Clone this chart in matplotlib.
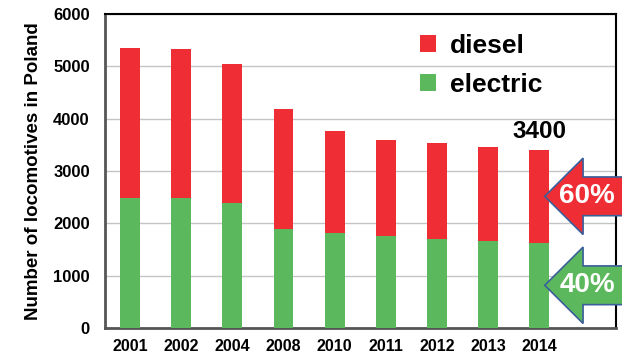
import matplotlib.pyplot as plt
from matplotlib.patches import Polygon, Rectangle
import numpy as np

years = ['2001', '2002', '2004', '2008', '2010', '2011', '2012', '2013', '2014']
total = [5350, 5330, 5040, 4180, 3770, 3600, 3530, 3465, 3400]
electric = [2480, 2480, 2390, 1890, 1815, 1750, 1705, 1660, 1630]
diesel = [t - e for t, e in zip(total, electric)]
shares = ['60%', '40%']

red = '#ee2e34'
green = '#5cb85c'

plt.rcParams['font.family'] = 'Liberation Sans'

fig = plt.figure(figsize=(6.22, 3.58), dpi=100)
ax = fig.add_axes([0.169, 0.084, 0.821, 0.877])

x = np.arange(len(years))
ax.bar(x, electric, width=0.39, color=green, label='electric', zorder=3)
ax.bar(x, diesel, width=0.39, bottom=electric, color=red, label='diesel', zorder=3)

ax.set_ylim(0, 6000)
ax.set_xlim(-0.49, 9.5)
ax.set_yticks(range(0, 6001, 1000))
ax.set_xticks(x)
ax.set_xticklabels(years)
ax.tick_params(length=0)
ax.tick_params(axis='x', pad=8, labelsize=11.5)
ax.tick_params(axis='y', pad=11, labelsize=12)
for lab in ax.get_xticklabels() + ax.get_yticklabels():
    lab.set_fontweight('bold')
ax.set_ylabel('Number of locomotives in Poland', fontsize=13.5, fontweight='bold', labelpad=8)
ax.grid(axis='y', color='#c4c4c4', lw=1, zorder=0)
for side in ['left', 'bottom']:
    ax.spines[side].set_color('#555555')
    ax.spines[side].set_linewidth(2)
for side in ['top', 'right']:
    ax.spines[side].set_color('black')
    ax.spines[side].set_linewidth(1.5)

# white strip behind the legend breaks the 5000 gridline
ax.add_patch(Rectangle((0.558, 0.80), 0.387, 0.07, transform=ax.transAxes,
                       facecolor='white', edgecolor='none', zorder=1))

# legend: diesel first
h, l = ax.get_legend_handles_labels()
leg = ax.legend(h[::-1], l[::-1], loc='upper left', bbox_to_anchor=(0.58, 0.995),
                frameon=False, handlelength=0.6, handleheight=0.6, handletextpad=0.55,
                labelspacing=0.55, borderpad=0.2, prop={'weight': 'bold', 'size': 19})
leg.set_zorder(4)

# total on top of last bar
last = len(years) - 1
ax.text(last, total[last] + 130, str(total[last]), ha='center', va='bottom',
        fontsize=17.5, fontweight='bold', zorder=5)

# block arrows pointing at each segment of the last bar
def block_arrow(yc, color, text):
    tip = last + 0.11
    base = last + 0.86
    end = last + 1.7
    hh, sh = 730, 370
    pts = [(tip, yc), (base, yc + hh), (base, yc + sh), (end, yc + sh),
           (end, yc - sh), (base, yc - sh), (base, yc - hh)]
    poly = Polygon(pts, closed=True, facecolor=color, edgecolor='#3a5f9a',
                   lw=1.2, clip_on=False, zorder=6)
    ax.add_patch(poly)
    ax.text(last + 0.94, yc, text, ha='center', va='center', color='white',
            fontsize=20, fontweight='bold', zorder=7, clip_on=False)

block_arrow(electric[last] + diesel[last] / 2, red, shares[0])
block_arrow(electric[last] / 2, green, shares[1])

fig.savefig('out.png', dpi=100)
